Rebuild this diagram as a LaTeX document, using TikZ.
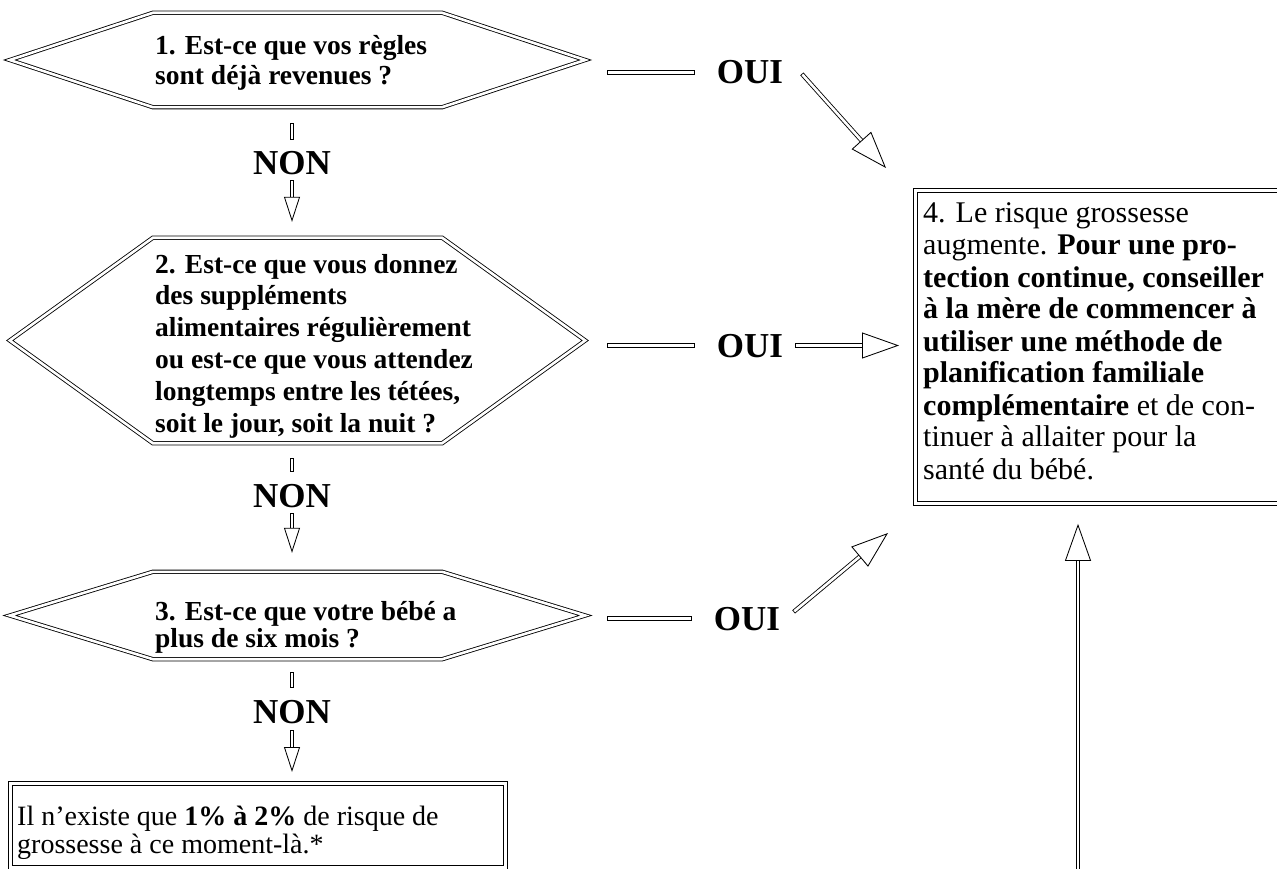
\documentclass[tikz,border=0pt]{standalone}
\usepackage{fontspec}
\setmainfont{Liberation Serif}
\usetikzlibrary{arrows.meta,calc}
\newcommand\drawhex[1]{\draw[hexframe] (#1.west) -- ($(#1.north west)+(143,0)$) -- ($(#1.north east)+(-143,0)$) -- (#1.east) -- ($(#1.south east)+(-143,0)$) -- ($(#1.south west)+(143,0)$) -- cycle;}
\begin{document}
\begin{tikzpicture}[x=1pt,y=-1pt,
  dbl/.style={draw=black,line width=0.85pt,double=white,double distance=2.6pt},
  conn/.style={dbl,line cap=rect},
  bigarrow/.style={conn,-{Triangle[length=37pt,width=26pt,fill=white,line width=0.85pt]}},
  smallarrow/.style={conn,-{Triangle[length=25pt,width=16pt,fill=white,line width=0.85pt]}},
  hexframe/.style={dbl,line join=miter},
  hexarea/.style={inner sep=0pt,minimum width=575pt},
  qtext/.style={inner sep=0pt,anchor=base west,font=\bfseries\fontsize{27.5}{#1}\selectfont},
  yn/.style={inner sep=0pt,anchor=base,text height=23pt,text depth=0pt,font=\bfseries\fontsize{35}{35}\selectfont},
  boxframe/.style={dbl,inner sep=0pt,anchor=north west},
  btext/.style={inner sep=0pt,anchor=base west},
]
\useasboundingbox (0,0) rectangle (1277,869);
\clip (0,0) rectangle (1277,869);

% question hexagons
\node[hexarea,minimum height=94pt] (h1) at (297.5,60) {};
\node[hexarea,minimum height=205pt] (h2) at (297.5,340.5) {};
\node[hexarea,minimum height=87pt] (h3) at (297.5,615.5) {};
\drawhex{h1}
\drawhex{h2}
\drawhex{h3}

\node[qtext=30] (t1) at (155,55) {\begin{tabular}[t]{@{}l@{}}1. Est-ce que vos règles\\ sont déjà revenues ?\end{tabular}};
\node[qtext=31.8] (t2) at (155,273) {\begin{tabular}[t]{@{}l@{}}2. Est-ce que vous donnez\\ des suppléments\\ alimentaires régulièrement\\ ou est-ce que vous attendez\\ longtemps entre les tétées,\\ soit le jour, soit la nuit ?\end{tabular}};
\node[qtext=27] (t3) at (155,620) {\begin{tabular}[t]{@{}l@{}}3. Est-ce que votre bébé a\\ plus de six mois ?\end{tabular}};

% boxes
\node[boxframe,minimum width=380pt,minimum height=313pt] (b4) at (915,190) {};
\node[btext,font=\fontsize{30}{32}\selectfont] (b4t) at (923,223) {\begin{tabular}[t]{@{}l@{}}4. Le risque grossesse\\ augmente. \textbf{Pour une pro-}\\ \textbf{tection continue, conseiller}\\ \textbf{à la mère de commencer à}\\ \textbf{utiliser une méthode de}\\ \textbf{planification familiale}\\ \textbf{complémentaire} et de con-\\ tinuer à allaiter pour la\\ santé du bébé.\end{tabular}};

\node[boxframe,minimum width=495pt,minimum height=84pt] (b5) at (10,783) {};
\node[btext,font=\fontsize{28}{28}\selectfont] (b5t) at (17,825) {\begin{tabular}[t]{@{}l@{}}Il n’existe que \textbf{1\% à 2\%} de risque de\\ grossesse à ce moment-là.*\end{tabular}};

% labels
\node[yn] (n1) at (292,175) {NON};
\node[yn] (n2) at (292,507) {NON};
\node[yn] (n3) at (292,723) {NON};
\node[yn] (o1) at (750,84) {OUI};
\node[yn] (o2) at (750,357) {OUI};
\node[yn] (o3) at (747,630) {OUI};

% NON connectors
\draw[conn,shorten <=18pt,shorten >=14pt] (h1.south -| n1) -- (n1.north);
\draw[smallarrow,shorten <=7pt,shorten >=16pt] (n1.south) -- (h2.north -| n1);
\draw[conn,shorten <=17pt,shorten >=14pt] (h2.south -| n2) -- (n2.north);
\draw[smallarrow,shorten <=8pt,shorten >=19pt] (n2.south) -- (h3.north -| n2);
\draw[conn,shorten <=15pt,shorten >=14pt] (h3.south -| n3) -- (n3.north);
\draw[smallarrow,shorten <=9pt,shorten >=11pt] (n3.south) -- (b5.north -| n3);

% OUI connectors
\draw[conn,shorten <=24pt,shorten >=24pt] (h1.east |- o1.west) -- (o1.west);
\draw[conn,shorten <=24pt,shorten >=24pt] (h2.east |- o2.west) -- (o2.west);
\draw[conn,shorten <=24pt,shorten >=24pt] (h3.east |- o3.west) -- (o3.west);
\coordinate (a1) at (886,168);
\coordinate (a3) at (888,533);
\coordinate (v0) at (1078,875);
\draw[bigarrow] ([shift={(20,3)}]o1.east) -- (a1);
\draw[bigarrow,shorten >=16pt] ([xshift=14pt]o2.east) -- (o2.east -| b4.west);
\draw[bigarrow] ([shift={(15,-8)}]o3.east) -- (a3);
\draw[bigarrow,shorten >=20pt] (v0) -- (v0 |- b4.south);
\end{tikzpicture}
\end{document}
